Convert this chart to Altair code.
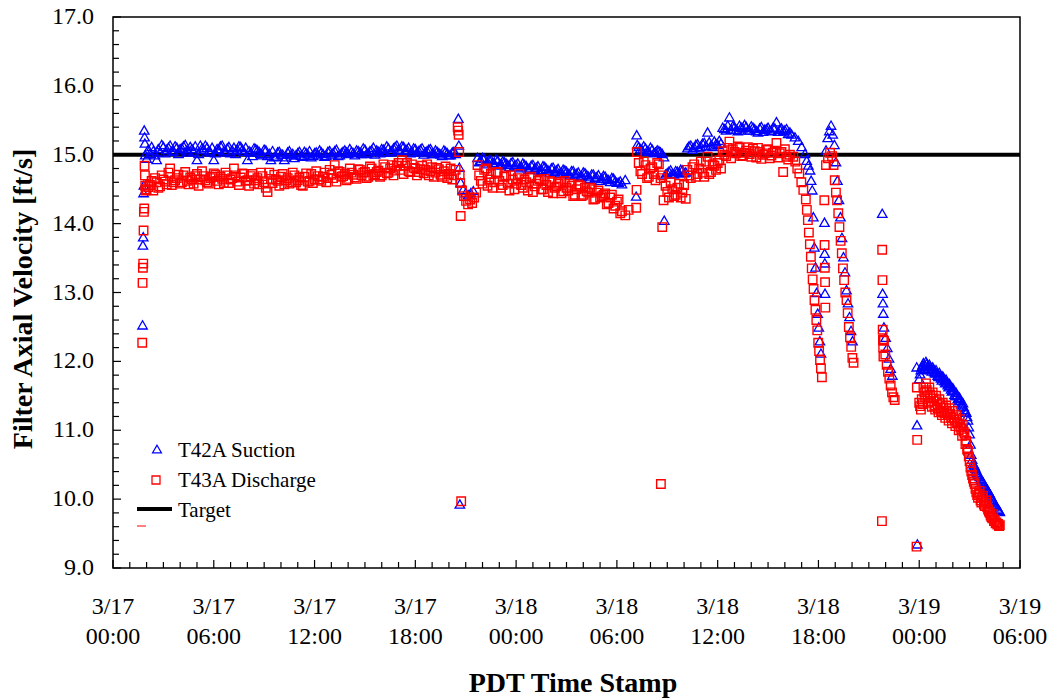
import altair as alt
import pandas as pd

# Time axis is in hours counted from 3/17 00:00 PDT.
X_DOMAIN = [0, 54]
Y_DOMAIN = [9.0, 17.0]
TARGET_VELOCITY = 15.0

# Each run: (first sample hour, hours between samples, velocity readings in ft/s)
SUCTION_RUNS = [
    (1.76, 0.02, [12.53, 13.69, 13.81, 14.45, 14.56, 15.36, 15.26, 15.17, 15.00]),
    (2.0, 0.2, [14.95, 15.02, 15.06, 14.93, 15.04, 15.12, 15.08, 15.14, 15.06, 15.11, 15.09,
                15.13, 15.07, 15.12, 15.05, 14.93, 15.14, 15.08, 15.11, 15.04, 14.93,
                15.09, 15.13, 15.06, 15.10, 15.03, 15.11, 15.08, 15.12, 15.05, 14.93,
                15.04, 15.10, 15.07, 15.02, 15.08, 14.99, 14.93, 14.97, 15.04, 15.01,
                14.93, 15.04, 15.00, 14.96, 15.03, 14.99, 15.05, 15.01, 14.97, 15.03,
                15.00, 15.04, 14.98, 15.05, 15.01, 15.06, 14.99, 15.03, 15.07, 15.02,
                15.05, 15.00, 15.06, 15.02, 15.08, 15.03, 15.07, 15.01, 15.05, 15.09,
                15.04, 15.10, 15.06, 15.12, 15.08, 15.13, 15.07, 15.11, 15.05, 15.09,
                15.06, 15.10, 15.04, 15.08, 15.02, 15.07, 15.03, 14.99, 15.05, 15.00,
                15.04, 15.02]),
    (2.1, 0.2, [15.08, 15.12, 15.00, 15.09, 15.15, 15.03, 15.11, 15.05, 15.13, 15.02,
                15.10, 15.15, 15.04, 15.09, 15.13, 15.02, 15.10, 15.14, 15.06, 15.11,
                15.03, 15.08, 15.14, 15.04, 15.12, 15.07, 15.02, 15.13, 15.08, 15.11,
                15.06, 14.99, 15.09, 15.05, 15.00, 15.07, 15.02, 15.06, 14.98, 15.05,
                15.01, 14.97, 15.06, 15.02, 15.00, 15.05, 14.98, 15.03, 15.06, 14.99,
                15.04, 15.07, 15.02, 14.99, 15.06, 15.03, 15.08, 15.00, 15.05, 15.04,
                15.09, 15.03, 15.07, 15.04, 15.10, 15.02, 15.06, 15.11, 15.07, 15.03,
                15.08, 15.13, 15.04, 15.10, 15.14, 15.06, 15.12, 15.08, 15.03, 15.10,
                15.04, 15.08, 15.01, 15.06, 15.09, 15.02, 15.05, 15.01, 15.07, 15.03,
                15.00, 15.05]),
    (20.56, 0.03, [15.53, 15.14, 14.82, 9.93]),
    (20.7, 0.15, [14.60, 14.50, 14.45, 14.42, 14.45, 14.48]),
    (21.7, 0.2, [14.96, 14.92, 14.95, 14.90, 14.93, 14.88, 14.92, 14.87, 14.90, 14.86,
                 14.89, 14.84, 14.88, 14.83, 14.86, 14.81, 14.85, 14.80, 14.84, 14.79,
                 14.83, 14.78, 14.81, 14.76, 14.80, 14.75, 14.78, 14.73, 14.77, 14.72,
                 14.75, 14.70, 14.74, 14.69, 14.72, 14.67, 14.71, 14.66, 14.69, 14.64,
                 14.67, 14.62, 14.60, 14.58, 14.64]),
    (21.8, 0.2, [14.90, 14.96, 14.87, 14.93, 14.89, 14.94, 14.85, 14.91, 14.88, 14.83,
                 14.90, 14.86, 14.81, 14.88, 14.84, 14.79, 14.86, 14.82, 14.77, 14.84,
                 14.80, 14.75, 14.82, 14.78, 14.73, 14.79, 14.76, 14.71, 14.77, 14.73,
                 14.68, 14.75, 14.71, 14.66, 14.72, 14.68, 14.63, 14.70, 14.65, 14.61,
                 14.66, 14.60, 14.62]),
    (31.15, 0.03, [14.40, 15.29, 15.15]),
    (31.3, 0.2, [15.12, 15.07, 15.10, 15.05, 15.08, 15.04, 15.06, 15.02]),
    (31.4, 0.2, [15.09, 15.13, 15.06, 15.11, 15.03, 15.07, 15.04]),
    (32.8, 0.02, [14.97, 14.05]),
    (32.9, 0.2, [14.72, 14.76, 14.73, 14.77, 14.74, 14.78, 14.75]),
    (33.0, 0.2, [14.74, 14.78, 14.72, 14.76, 14.79, 14.74]),
    (34.2, 0.2, [15.10, 15.14, 15.11, 15.16, 15.12, 15.18, 15.33, 15.14, 15.20, 15.15, 15.17]),
    (34.3, 0.2, [15.13, 15.08, 15.15, 15.10, 15.17, 15.13, 15.19, 15.12, 15.16, 15.21]),
    (36.3, 0.2, [15.40, 15.36, 15.55, 15.42, 15.37, 15.43, 15.39, 15.41, 15.36, 15.40,
                 15.35, 15.39, 15.34, 15.38, 15.36, 15.40, 15.48, 15.37, 15.35, 15.38, 15.33]),
    (36.4, 0.2, [15.38, 15.43, 15.37, 15.41, 15.35, 15.40, 15.44, 15.36, 15.42, 15.38,
                 15.33, 15.41, 15.37, 15.40, 15.35, 15.39, 15.34, 15.39, 15.36, 15.31]),
    (40.4, 0.2, [15.30, 15.26, 15.21, 15.12, 15.02]),
    (41.3, 0.1, [14.92, 14.85]),
    (41.5, 0.065, [14.78, 14.63, 14.49, 14.10, 13.66, 13.37, 13.00, 12.70, 12.50, 12.30, 12.12]),
    (42.36, 0.01, [14.02, 13.57, 13.43, 12.99]),
    (42.45, 0.1, [15.07, 15.25, 15.35, 15.43, 15.30]),
    (42.95, 0.09, [15.15, 14.90, 14.63, 14.35, 14.10, 13.80, 13.52, 13.30, 13.04, 12.85,
                   12.65, 12.45, 12.30]),
    (45.8, 0.02, [14.15, 12.99, 12.85, 12.70]),
    (45.9, 0.1, [12.50, 12.35, 12.20, 12.05, 11.90, 11.80]),
    (47.85, 0.02, [11.92, 11.08, 9.35]),
    (48.0, 0.1, [11.75, 11.88, 11.95, 11.90, 12.00, 11.93, 11.96, 11.88, 11.92, 11.85,
                 11.88, 11.80, 11.84, 11.76, 11.79, 11.72, 11.74, 11.66, 11.68, 11.60,
                 11.62, 11.52, 11.55, 11.46, 11.48, 11.38, 11.40, 11.30, 11.26, 11.15,
                 10.95, 10.65, 10.52, 10.48, 10.42, 10.36, 10.33, 10.28, 10.25, 10.20,
                 10.16, 10.12, 10.08, 10.03, 9.98, 9.93, 9.90, 9.85, 9.82]),
    (48.05, 0.1, [11.82, 11.92, 11.98, 11.94, 11.97, 11.90, 11.93, 11.86, 11.89, 11.83,
                  11.84, 11.78, 11.80, 11.73, 11.76, 11.69, 11.70, 11.63, 11.65, 11.57,
                  11.58, 11.50, 11.51, 11.43, 11.44, 11.35, 11.34, 11.28, 11.20, 11.05,
                  10.80, 10.58, 10.50, 10.45, 10.39, 10.35, 10.30, 10.26, 10.22, 10.18,
                  10.14, 10.10, 10.05, 10.00, 9.96, 9.91, 9.87, 9.84]),
]

DISCHARGE_RUNS = [
    (1.74, 0.02, [12.27, 13.14, 13.36, 13.42, 13.90, 14.17, 14.22, 14.84, 14.70, 14.55, 14.48]),
    (2.0, 0.2, [14.50, 14.56, 14.48, 14.60, 14.54, 14.64, 14.57, 14.80, 14.60, 14.66, 14.58,
                14.70, 14.62, 14.67, 14.58, 14.72, 14.64, 14.69, 14.60, 14.66, 14.73,
                14.62, 14.68, 14.59, 14.70, 14.64, 14.80, 14.61, 14.67, 14.72, 14.63,
                14.69, 14.58, 14.66, 14.74, 14.60, 14.46, 14.65, 14.71, 14.62, 14.68,
                14.57, 14.66, 14.60, 14.70, 14.63, 14.56, 14.68, 14.61, 14.72, 14.64,
                14.69, 14.62, 14.74, 14.66, 14.71, 14.85, 14.76, 14.68, 14.72, 14.65,
                14.74, 14.67, 14.79, 14.70, 14.75, 14.68, 14.80, 14.72, 14.77, 14.70,
                14.82, 14.74, 14.85, 14.77, 14.88, 14.92, 14.84, 14.76, 14.86, 14.80,
                14.75, 14.84, 14.78, 14.70, 14.82, 14.74, 14.79, 14.68, 14.83, 14.72,
                14.64, 14.78]),
    (2.1, 0.2, [14.53, 14.62, 14.66, 14.52, 14.70, 14.61, 14.74, 14.56, 14.63, 14.71,
                14.60, 14.75, 14.57, 14.64, 14.69, 14.55, 14.76, 14.63, 14.58, 14.68,
                14.71, 14.57, 14.65, 14.74, 14.59, 14.66, 14.70, 14.56, 14.73, 14.62,
                14.55, 14.72, 14.63, 14.57, 14.69, 14.52, 14.74, 14.59, 14.64, 14.55,
                14.72, 14.63, 14.58, 14.74, 14.60, 14.67, 14.55, 14.73, 14.62, 14.59,
                14.76, 14.64, 14.68, 14.60, 14.78, 14.66, 14.61, 14.75, 14.69, 14.63,
                14.80, 14.71, 14.65, 14.78, 14.74, 14.66, 14.83, 14.70, 14.75, 14.68,
                14.86, 14.73, 14.80, 14.70, 14.84, 14.78, 14.72, 14.88, 14.75, 14.81,
                14.70, 14.79, 14.73, 14.86, 14.76, 14.68, 14.81, 14.71, 14.76, 14.66,
                14.80, 14.70]),
    (20.52, 0.03, [15.40, 15.35, 15.29, 15.04, 14.71, 14.59, 14.11, 9.97]),
    (20.78, 0.12, [14.48, 14.40, 14.33, 14.28, 14.35, 14.30, 14.38, 14.45]),
    (21.7, 0.2, [14.85, 14.62, 14.78, 14.55, 14.72, 14.60, 14.75, 14.52, 14.68, 14.58,
                 14.70, 14.50, 14.66, 14.56, 14.64, 14.48, 14.68, 14.54, 14.62, 14.50,
                 14.65, 14.46, 14.60, 14.52, 14.58, 14.44, 14.62, 14.48, 14.55, 14.42,
                 14.57, 14.40, 14.52, 14.45, 14.50, 14.36, 14.48, 14.40, 14.44, 14.30,
                 14.42, 14.26, 14.35, 14.18, 14.12, 14.20]),
    (21.8, 0.2, [14.70, 14.58, 14.80, 14.64, 14.52, 14.74, 14.62, 14.56, 14.70, 14.48,
                 14.64, 14.58, 14.72, 14.52, 14.60, 14.66, 14.46, 14.58, 14.64, 14.50,
                 14.56, 14.62, 14.44, 14.54, 14.60, 14.47, 14.52, 14.58, 14.40, 14.50,
                 14.55, 14.42, 14.47, 14.52, 14.35, 14.45, 14.38, 14.42, 14.28, 14.38,
                 14.22, 14.32, 14.15]),
    (31.15, 0.02, [14.23, 14.49, 15.04]),
    (31.3, 0.2, [14.88, 14.72, 14.85, 14.68, 14.82, 14.63, 14.86, 14.70]),
    (31.4, 0.2, [14.76, 14.90, 14.66, 14.80, 14.72, 14.88, 14.66]),
    (32.62, 0.08, [10.22, 13.95, 14.34]),
    (32.9, 0.2, [14.55, 14.38, 14.50, 14.42, 14.58, 14.45, 14.36]),
    (33.0, 0.2, [14.46, 14.60, 14.40, 14.52, 14.38, 14.56]),
    (34.2, 0.2, [14.78, 14.66, 14.86, 14.72, 14.90, 14.68, 14.97, 14.75, 14.84, 14.88, 14.80]),
    (34.3, 0.2, [14.70, 14.82, 14.68, 14.80, 14.74, 14.90, 14.72, 14.86, 14.78, 14.92]),
    (36.3, 0.2, [15.05, 14.98, 15.19, 15.08, 15.02, 15.10, 14.99, 15.06, 15.01, 15.09,
                 14.96, 15.04, 15.00, 15.07, 14.95, 15.03, 15.17, 15.02, 14.75, 14.97, 15.00]),
    (36.4, 0.2, [15.00, 15.10, 14.95, 15.04, 15.12, 14.98, 15.03, 15.11, 14.97, 15.05,
                 15.10, 14.94, 15.02, 15.08, 14.99, 15.06, 14.96, 15.04, 15.08, 14.93]),
    (40.5, 0.12, [14.97, 14.90, 14.80, 14.73, 14.60, 14.49]),
    (41.25, 0.06, [14.35, 14.20, 14.05, 13.87, 13.70, 13.52]),
    (41.6, 0.055, [13.35, 13.19, 13.05, 12.89, 12.75, 12.60, 12.45, 12.27, 12.15, 12.02,
                   11.90, 11.77]),
    (42.35, 0.015, [14.34, 13.69, 13.36, 13.15, 12.78]),
    (42.45, 0.12, [14.85, 14.95, 15.03, 14.98]),
    (42.9, 0.07, [14.85, 14.63, 14.45, 14.34, 14.15, 13.95, 13.75, 13.57, 13.35, 13.18,
                  13.00, 12.89, 12.70, 12.50, 12.35, 12.21, 12.05, 11.98]),
    (45.78, 0.015, [9.68, 13.62, 13.18, 12.46, 12.31, 12.20, 12.07]),
    (45.9, 0.08, [12.30, 12.10, 11.95, 11.85, 11.75, 11.65, 11.55, 11.48, 11.44]),
    (47.84, 0.02, [9.31, 11.62, 10.86]),
    (48.0, 0.1, [11.40, 11.30, 11.38, 11.55, 11.68, 11.50, 11.62, 11.42, 11.55, 11.36,
                 11.50, 11.32, 11.45, 11.28, 11.40, 11.25, 11.36, 11.22, 11.32, 11.18,
                 11.28, 11.15, 11.22, 11.10, 11.16, 11.02, 11.08, 10.95, 10.85, 10.70,
                 10.55, 10.40, 10.30, 10.22, 10.10, 10.02, 10.12, 9.95, 10.05, 9.90,
                 9.98, 9.85, 9.80, 9.74, 9.78, 9.70, 9.66, 9.64, 9.62]),
    (48.05, 0.1, [11.35, 11.45, 11.62, 11.48, 11.58, 11.40, 11.52, 11.34, 11.46, 11.30,
                  11.42, 11.26, 11.38, 11.22, 11.33, 11.18, 11.28, 11.14, 11.24, 11.10,
                  11.19, 11.06, 11.12, 11.00, 11.05, 10.92, 10.98, 10.80, 10.72, 10.62,
                  10.46, 10.35, 10.25, 10.15, 10.06, 10.08, 9.98, 10.02, 9.92, 9.95,
                  9.88, 9.82, 9.76, 9.72, 9.68, 9.65, 9.63, 9.61]),
]

# Axis decorations
Y_MAJOR = [9, 10, 11, 12, 13, 14, 15, 16, 17]
Y_MINOR = [round(9 + 0.2 * i, 1) for i in range(41) if i % 5 != 0]
X_MAJOR = [0, 6, 12, 18, 24, 30, 36, 42, 48, 54]
X_MINOR = [h for h in range(0, 55) if h % 6 != 0]
X_DATES = ["3/17", "3/17", "3/17", "3/17", "3/18", "3/18", "3/18", "3/18", "3/19", "3/19"]
X_TIMES = ["00:00", "06:00", "12:00", "18:00", "00:00", "06:00", "12:00", "18:00", "00:00", "06:00"]

W, H = 907, 551
FONT = "Liberation Serif"
BLUE, RED = "#0000FF", "#FF0000"


def expand(runs):
    rows = []
    for start, step, readings in runs:
        for i, v in enumerate(readings):
            rows.append({"hour": round(start + i * step, 4), "velocity": v})
    return pd.DataFrame(rows)


suction = expand(SUCTION_RUNS)
discharge = expand(DISCHARGE_RUNS)

xs = alt.Scale(domain=X_DOMAIN, nice=False, zero=False)
ys = alt.Scale(domain=Y_DOMAIN, nice=False, zero=False)
X = alt.X("hour:Q", scale=xs, axis=None)
Y = alt.Y("velocity:Q", scale=ys, axis=None)

target = alt.Chart(pd.DataFrame({"velocity": [TARGET_VELOCITY]})).mark_rule(
    color="black", strokeWidth=4
).encode(y=Y)

suction_pts = alt.Chart(suction).mark_point(
    shape="triangle-up", filled=False, color=BLUE, size=90, strokeWidth=1.3, opacity=1
).encode(x=X, y=Y)

discharge_pts = alt.Chart(discharge).mark_point(
    shape="square", filled=False, color=RED, size=72, strokeWidth=1.4, opacity=1
).encode(x=X, y=Y)

# Inward ticks
y_major = alt.Chart(pd.DataFrame({"velocity": Y_MAJOR})).mark_rule(
    color="black", strokeWidth=1.2
).encode(y=Y, x=alt.value(0), x2=alt.value(8))
y_minor = alt.Chart(pd.DataFrame({"velocity": Y_MINOR})).mark_rule(
    color="black", strokeWidth=1.2
).encode(y=Y, x=alt.value(0), x2=alt.value(6))
x_major = alt.Chart(pd.DataFrame({"hour": X_MAJOR})).mark_rule(
    color="black", strokeWidth=1.2
).encode(x=X, y=alt.value(H), y2=alt.value(H - 8))
x_minor = alt.Chart(pd.DataFrame({"hour": X_MINOR})).mark_rule(
    color="black", strokeWidth=1.2
).encode(x=X, y=alt.value(H), y2=alt.value(H - 6))

# Tick labels
y_labels = alt.Chart(
    pd.DataFrame({"velocity": Y_MAJOR, "label": [f"{v:.1f}" for v in Y_MAJOR]})
).mark_text(font=FONT, fontSize=24, align="right", baseline="middle", color="black").encode(
    y=Y, x=alt.value(-19), text="label:N"
)
x_lab_df = pd.DataFrame({"hour": X_MAJOR, "date": X_DATES, "time": X_TIMES})
x_dates = alt.Chart(x_lab_df).mark_text(
    font=FONT, fontSize=24, align="center", baseline="alphabetic", color="black"
).encode(x=X, y=alt.value(H + 46), text="date:N")
x_times = alt.Chart(x_lab_df).mark_text(
    font=FONT, fontSize=24, align="center", baseline="alphabetic", color="black"
).encode(x=X, y=alt.value(H + 76), text="time:N")

# Axis titles
x_title = alt.Chart(pd.DataFrame({"t": ["PDT Time Stamp"]})).mark_text(
    font=FONT, fontSize=28, fontWeight="bold", align="center", baseline="alphabetic", color="black"
).encode(text="t:N", x=alt.value(460), y=alt.value(675))
y_title = alt.Chart(pd.DataFrame({"t": ["Filter Axial Velocity [ft/s]"]})).mark_text(
    font=FONT, fontSize=28, fontWeight="bold", align="center", baseline="middle",
    angle=270, color="black"
).encode(text="t:N", x=alt.value(-89), y=alt.value(282))

# Legend
LEGEND_LABELS = ["T42A Suction", "T43A Discharge", "Target"]
leg_text = alt.Chart(
    pd.DataFrame({"label": LEGEND_LABELS, "py": [440, 470, 500]})
).mark_text(font=FONT, fontSize=21, align="left", baseline="alphabetic", color="black").encode(
    text="label:N", x=alt.value(65), y=alt.Y("py:Q", scale=None, axis=None)
)
one = pd.DataFrame({"k": [0]})
leg_tri = alt.Chart(one).mark_point(
    shape="triangle-up", filled=False, color=BLUE, size=80, strokeWidth=1.2, opacity=1
).encode(x=alt.value(44), y=alt.value(432))
leg_sq = alt.Chart(one).mark_point(
    shape="square", filled=False, color=RED, size=64, strokeWidth=1.3, opacity=1
).encode(x=alt.value(43), y=alt.value(463))
leg_line = alt.Chart(one).mark_rule(color="black", strokeWidth=4).encode(
    x=alt.value(24), x2=alt.value(59), y=alt.value(492)
)
leg_dash = alt.Chart(one).mark_rule(color=RED, strokeWidth=1).encode(
    x=alt.value(24), x2=alt.value(33), y=alt.value(509)
)

chart = alt.layer(
    target, suction_pts, discharge_pts,
    y_major, y_minor, x_major, x_minor,
    y_labels, x_dates, x_times, x_title, y_title,
    leg_text, leg_tri, leg_sq, leg_line, leg_dash,
).properties(
    width=W, height=H,
    autosize=alt.AutoSizeParams(type="none"),
    padding={"left": 113, "top": 17, "right": 35, "bottom": 130},
    background="white",
).configure_view(stroke="black", strokeWidth=1.5)

chart.save("out.html", embed_options={"renderer": "svg", "actions": False})
